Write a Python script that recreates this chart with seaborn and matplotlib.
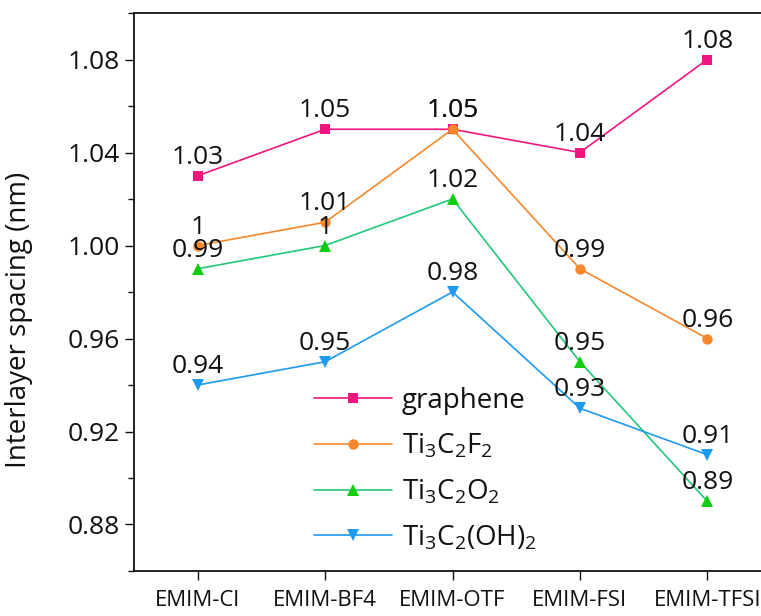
import matplotlib
matplotlib.use("Agg")
import matplotlib.pyplot as plt
import seaborn as sns
import pandas as pd
from matplotlib.ticker import MultipleLocator

categories = ["EMIM-Cl", "EMIM-BF4", "EMIM-OTF", "EMIM-FSI", "EMIM-TFSI"]
graphene = [1.03, 1.05, 1.05, 1.04, 1.08]
ti3c2f2 = [1.00, 1.01, 1.05, 0.99, 0.96]
ti3c2o2 = [0.99, 1.00, 1.02, 0.95, 0.89]
ti3c2oh2 = [0.94, 0.95, 0.98, 0.93, 0.91]
series_names = ["graphene", "Ti$_3$C$_2$F$_2$", "Ti$_3$C$_2$O$_2$", "Ti$_3$C$_2$(OH)$_2$"]
yticks = [0.88, 0.92, 0.96, 1.00, 1.04, 1.08]

sns.set_theme(style="ticks")
plt.rcParams["font.family"] = ["Open Sans", "DejaVu Sans"]
plt.rcParams["mathtext.fontset"] = "custom"
plt.rcParams["mathtext.rm"] = "Open Sans"
plt.rcParams["mathtext.it"] = "Open Sans"
plt.rcParams["mathtext.default"] = "regular"

fig = plt.figure(figsize=(7.61, 6.16), dpi=100)
ax = fig.add_axes([134 / 761, 45 / 616, 637 / 761, 558 / 616])

line_colors = ["#F0167F", "#F5882C", "#22C87A", "#1E9AF0"]
marker_colors = ["#F0167F", "#F5882C", "#11CC11", "#1E9AF0"]
markers = ["s", "o", "^", "v"]
msizes = [6.5, 7.5, 8, 8]
all_series = [graphene, ti3c2f2, ti3c2o2, ti3c2oh2]

for name, vals, lc, mc, mk, ms in zip(series_names, all_series, line_colors, marker_colors, markers, msizes):
    df = pd.DataFrame({"cat": categories, "val": vals})
    sns.lineplot(data=df, x="cat", y="val", ax=ax, color=lc, linewidth=1.2,
                 marker=mk, markersize=ms, markerfacecolor=mc, markeredgecolor=mc,
                 markeredgewidth=0, sort=False, label=name)
    for i, v in enumerate(vals):
        ax.annotate(f"{v:g}", (i, v), xytext=(0, 8.5), textcoords="offset points",
                    ha="center", va="baseline", fontsize=19, color="#111111")

ax.set_xlim(-0.5, 4.5)
ax.set_ylim(0.86, 1.10)
ax.set_yticks(yticks)
ax.set_yticklabels([f"{t:.2f}" for t in yticks])
ax.yaxis.set_minor_locator(MultipleLocator(0.02))
ax.set_xlabel("")
ax.set_ylabel("Interlayer spacing (nm)", fontsize=20, color="#111111")
ax.yaxis.set_label_coords(-0.158, 0.45)
ax.tick_params(axis="y", which="major", labelsize=19, length=6.5, width=1, pad=3.5, colors="#111111")
ax.tick_params(axis="y", which="minor", length=4, width=1, colors="#111111")
ax.tick_params(axis="x", which="major", labelsize=16, length=6.5, width=1, pad=7, colors="#111111")
for s in ax.spines.values():
    s.set_linewidth(1.3)
    s.set_color("#111111")

leg = ax.legend(loc="upper left", bbox_to_anchor=(300 / 761, 1 - 373 / 616),
                bbox_transform=fig.transFigure, frameon=False, fontsize=20,
                handlelength=2.8, handletextpad=0.36, labelspacing=0.62, borderpad=0)
for t in leg.get_texts():
    t.set_color("#111111")

fig.savefig("out.png", dpi=100)
